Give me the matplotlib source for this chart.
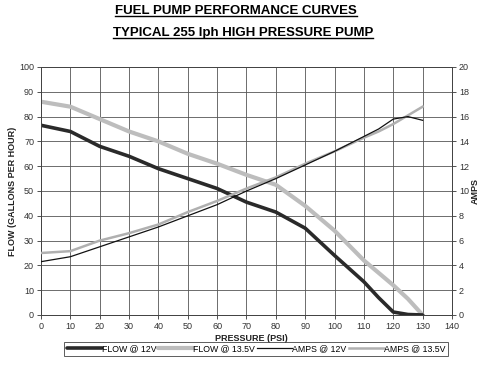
import numpy as np
import matplotlib
matplotlib.use('Agg')
import matplotlib.pyplot as plt
from matplotlib.lines import Line2D

plt.rcParams['font.family'] = ['Liberation Sans', 'DejaVu Sans']

# Pressure (PSI) points
pressure = [0, 10, 20, 30, 40, 50, 60, 70, 80, 90, 100, 110, 115, 120, 125, 130]

# Flow in gallons per hour
flow_12v = [76.5, 74, 68, 64, 59, 55, 51, 45.5, 41.5, 35, 24, 13.4, 7, 1.2, 0.2, 0]
flow_135v = [86, 84, 79, 74, 70, 65, 61, 56.5, 52.5, 44, 34, 22, 17, 12, 6.5, 0]

# Current draw in amps
amps_12v = [4.3, 4.7, 5.5, 6.3, 7.1, 8.0, 8.9, 10.0, 11.0, 12.1, 13.2, 14.4, 15.0, 15.8, 16.0, 15.7]
amps_135v = [5.0, 5.15, 6.0, 6.6, 7.3, 8.3, 9.2, 10.2, 11.1, 12.2, 13.2, 14.3, 14.8, 15.4, 16.1, 16.8]

x_ticks = list(range(0, 141, 10))
flow_ticks = list(range(0, 101, 10))
amp_ticks = list(range(0, 21, 2))

fig = plt.figure(figsize=(5, 3.66), dpi=100)
ax = fig.add_axes([41 / 500, 1 - 315 / 366, 411 / 500, 248 / 366])
ax2 = ax.twinx()

ax.plot(pressure, flow_12v, color='#2a2a2a', lw=2.6, solid_capstyle='round', label='FLOW @ 12V', zorder=4)
ax.plot(pressure, flow_135v, color='#bdbdbd', lw=3.0, solid_capstyle='round', label='FLOW @ 13.5V', zorder=3)
ax2.plot(pressure, amps_12v, color='#111111', lw=0.9, label='AMPS @ 12V', zorder=4)
ax2.plot(pressure, amps_135v, color='#b0b0b0', lw=1.8, label='AMPS @ 13.5V', zorder=3)

ax.set_xlim(0, 140)
ax.set_ylim(0, 100)
ax2.set_ylim(0, 20)
ax.set_xticks(x_ticks)
ax.set_yticks(flow_ticks)
ax2.set_yticks(amp_ticks)
ax.grid(True, color='#555555', lw=0.6)

for a in (ax, ax2):
    a.tick_params(labelsize=6.5, length=3, width=0.6, colors='#333333', pad=2)
    for s in a.spines.values():
        s.set_color('#444444')
        s.set_linewidth(0.7)
ax2.set_zorder(ax.get_zorder() + 1)
ax2.patch.set_visible(False)

ax.set_ylabel('FLOW (GALLONS PER HOUR)', fontsize=6.5, fontweight='bold', color='#222222', labelpad=1.5)
ax2.set_ylabel('AMPS', fontsize=6.5, fontweight='bold', color='#222222', labelpad=1.5)
ax.set_xlabel('PRESSURE (PSI)', fontsize=6.5, fontweight='bold', color='#222222')
ax.xaxis.set_label_coords(0.513, -0.075)

handles = ax.get_lines() + ax2.get_lines()
leg = fig.legend(handles, [h.get_label() for h in handles], loc='center',
                 bbox_to_anchor=(256 / 500, 1 - 349 / 366), ncol=4, fontsize=6.3,
                 frameon=True, fancybox=False, edgecolor='#333333', handlelength=4.0,
                 handletextpad=0.0, columnspacing=0.25, borderpad=0.25, borderaxespad=0)
leg.get_frame().set_linewidth(0.7)

# titles with underline
t1 = fig.text(236 / 500, 1 - 11 / 366, 'FUEL PUMP PERFORMANCE CURVES', ha='center', va='center',
              fontsize=9.5, fontweight='bold')
t2 = fig.text(243 / 500, 1 - 33 / 366, 'TYPICAL 255 lph HIGH PRESSURE PUMP', ha='center', va='center',
              fontsize=9.5, fontweight='bold')
fig.canvas.draw()
r = fig.canvas.get_renderer()
for t in (t1, t2):
    bb = t.get_window_extent(r).transformed(fig.transFigure.inverted())
    fig.add_artist(Line2D([bb.x0, bb.x1], [bb.y0 + 0.002, bb.y0 + 0.002], color='black', lw=1.0,
                          transform=fig.transFigure))

fig.savefig('out.png', dpi=100)
